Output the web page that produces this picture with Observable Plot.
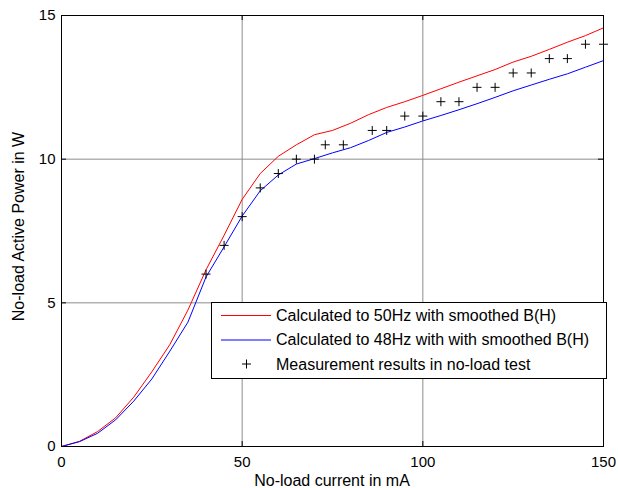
<!DOCTYPE html>
<html><head><meta charset="utf-8">
<script src="https://cdn.jsdelivr.net/npm/d3@7"></script>
<script src="https://cdn.jsdelivr.net/npm/@observablehq/plot@0.6"></script>
<style>body{margin:0;background:#fff} #chart{width:618px;height:488px}</style>
</head><body><div id="chart"></div>
<script>
// ---- data ----
const current = [0,5,10,15,20,25,30,35,40,45,50,55,60,65,70,75,80,85,90,95,100,105,110,115,120,125,130,135,140,145,150];
const power50 = [0,0.18,0.52,1.0,1.72,2.6,3.55,4.75,6.15,7.35,8.6,9.5,10.1,10.5,10.85,11.0,11.25,11.55,11.8,12.0,12.22,12.45,12.68,12.9,13.12,13.38,13.58,13.82,14.07,14.3,14.57];
const power48 = [0,0.17,0.46,0.93,1.58,2.35,3.32,4.33,5.9,6.95,8.02,8.9,9.45,9.83,10.02,10.22,10.4,10.65,10.93,11.12,11.33,11.52,11.72,11.93,12.15,12.38,12.58,12.78,12.97,13.2,13.43];
const measCurrent = [40,45,50,55,60,65,70,73,78,86,90,95,100,105,110,115,120,125,130,135,140,145,150];
const measPower = [6,7,8,9,9.5,10,10,10.5,10.5,11,11,11.5,11.5,12,12,12.5,12.5,13,13,13.5,13.5,14,14];
const xTicks = [0,50,100,150];
const yTicks = [0,5,10,15];
const gridX = [50,100];
const gridY = [5,10];
const legendLabels = ["Calculated to 50Hz with smoothed B(H)","Calculated to 48Hz with with smoothed B(H)","Measurement results in no-load test"];
const xLabel = "No-load current in mA";
const yLabel = "No-load Active Power in W";

// ---- layout ----
const W = 618, H = 488, mL = 61, mR = 15, mT = 15, mB = 42;
const innerH = H - mT - mB, innerW = W - mL - mR;
const font = "'Liberation Sans', Arial, sans-serif";

const plot = Plot.plot({
  width: W, height: H,
  marginLeft: mL, marginRight: mR, marginTop: mT, marginBottom: mB,
  style: {fontFamily: font, fontSize: "15px", background: "white", color: "black", overflow: "visible"},
  x: {domain: [0, 150]},
  y: {domain: [0, 15]},
  marks: [
    Plot.ruleX(gridX, {stroke: "#8c8c8c", strokeWidth: 1}),
    Plot.ruleY(gridY, {stroke: "#8c8c8c", strokeWidth: 1}),
    Plot.ruleX(xTicks, {insetTop: innerH - 5, stroke: "black"}),
    Plot.ruleX(xTicks, {insetBottom: innerH - 5, stroke: "black"}),
    Plot.ruleY(yTicks, {insetRight: innerW - 5, stroke: "black"}),
    Plot.ruleY(yTicks, {insetLeft: innerW - 5, stroke: "black"}),
    Plot.line(current, {x: current, y: power50, stroke: "#ff0000", strokeWidth: 1}),
    Plot.line(current, {x: current, y: power48, stroke: "#0000ff", strokeWidth: 1}),
    Plot.dot(measCurrent, {x: measCurrent, y: measPower, symbol: "plus", r: 3, stroke: "black", strokeWidth: 1}),
    Plot.frame({stroke: "black", strokeWidth: 1}),
    Plot.axisX({ticks: xTicks, tickSize: 0, tickPadding: 10, label: null, fontSize: 15}),
    Plot.axisY({ticks: yTicks, tickSize: 0, tickPadding: 6, label: null, fontSize: 15})
  ]
});
document.getElementById("chart").appendChild(plot);

// ---- labels & legend ----
const svg = d3.select(plot);
svg.append("text").attr("x", mL + innerW / 2).attr("y", 486)
  .attr("text-anchor", "middle").attr("font-family", font).attr("font-size", 16).attr("fill", "black").text(xLabel);
svg.append("text").attr("transform", `translate(24,${mT + innerH / 2 - 4}) rotate(-90)`)
  .attr("text-anchor", "middle").attr("font-family", font).attr("font-size", 16).attr("fill", "black").text(yLabel);

const lg = svg.append("g").attr("text-anchor", "start");
const bx = 211.5, by = 302.5, bw = 395, bh = 76;
lg.append("rect").attr("x", bx).attr("y", by).attr("width", bw).attr("height", bh)
  .attr("fill", "white").attr("stroke", "black").attr("stroke-width", 1);
const rows = [315, 339.5, 364];
const colors = ["#ff0000", "#0000ff"];
legendLabels.forEach((t, i) => {
  const y = rows[i];
  if (i < 2) {
    lg.append("line").attr("x1", 221).attr("x2", 271).attr("y1", y + 0.5).attr("y2", y + 0.5)
      .attr("stroke", colors[i]).attr("stroke-width", 1);
  } else {
    lg.append("path").attr("transform", `translate(246.5,${y})`)
      .attr("d", d3.symbol(d3.symbolPlus, Math.PI * 9)()).attr("stroke", "black").attr("fill", "none");
  }
  lg.append("text").attr("x", 276).attr("y", y).attr("dy", "0.36em").attr("text-anchor", "start")
    .attr("font-family", font).attr("font-size", 16).attr("fill", "black").text(t);
});
</script>
</body></html>
